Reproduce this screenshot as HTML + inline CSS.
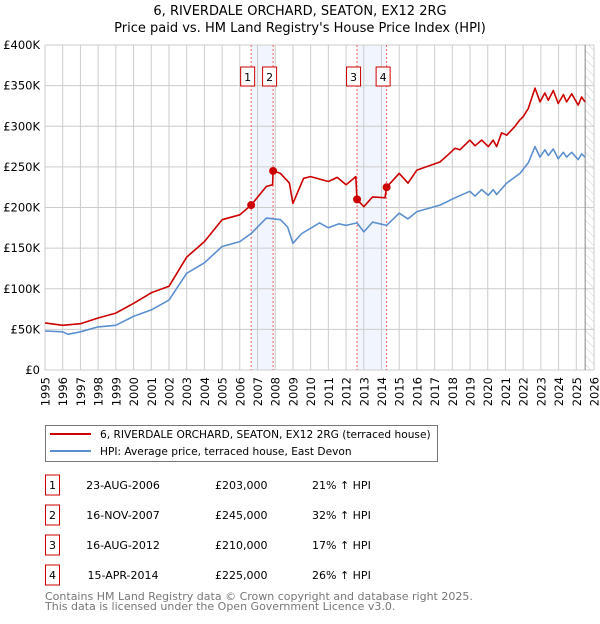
<!DOCTYPE html>
<html><head><meta charset="utf-8"><style>
body{margin:0;background:#fff;font-family:"DejaVu Sans","Liberation Sans",sans-serif;}
#wrap{position:relative;width:600px;height:620px;}
svg text{font-family:"DejaVu Sans","Liberation Sans",sans-serif;}
</style></head><body><div id="wrap">
<svg id="c" width="600" height="620"></svg>
</div>
<script>
const years=[1995,1996,1997,1998,1999,2000,2001,2002,2003,2004,2005,2006,2007,2008,2009,2010,2011,2012,2013,2014,2015,2016,2017,2018,2019,2020,2021,2022,2023,2024,2025,2026];
const yTicks=[0,50000,100000,150000,200000,250000,300000,350000,400000];
const yTickLabels=["£0","£50K","£100K","£150K","£200K","£250K","£300K","£350K","£400K"];
const hpiT=[1995,1996,1996.3,1997,1998,1999,2000,2001,2002,2003,2004,2005,2006,2006.64,2007.5,2008.3,2008.7,2009.0,2009.5,2010.5,2011,2011.6,2012,2012.62,2013,2013.5,2014.29,2015,2015.5,2016,2017.3,2018.15,2018.99,2019.28,2019.66,2020.03,2020.31,2020.5,2021.07,2021.82,2022.29,2022.67,2022.95,2023.23,2023.42,2023.7,2023.98,2024.27,2024.45,2024.74,2025.11,2025.3,2025.49];
const hpiV=[48,47,44,47,53,55,66,74,86,119,132,152,158,168,187,185,176,156,168,181,175,180,178,181,170,182,178,193,186,195,203,212,220,214,222,215,222,216,230,242,255,275,262,271,264,272,260,268,262,268,259,266,262];
const ppT=[1995,1996,1997,1998,1999,2000,2001,2002,2003,2004,2005,2006,2006.64,2007.5,2007.85,2007.88,2008.3,2008.8,2009.0,2009.6,2010,2011,2011.5,2012,2012.55,2012.62,2013,2013.5,2014.2,2014.29,2015,2015.5,2016,2017.3,2017.77,2018.15,2018.43,2018.99,2019.28,2019.66,2020.03,2020.31,2020.5,2020.78,2021.07,2021.54,2021.82,2022.01,2022.29,2022.67,2022.95,2023.23,2023.42,2023.7,2023.98,2024.27,2024.45,2024.74,2025.11,2025.3,2025.49];
const ppV=[58,55,57,64,70,82,95,103,139,158,185,191,203,226,228,245,242,230,205,236,238,232,237,228,238,210,201,213,212,225,242,230,246,256,265,273,271,283,276,283,275,283,275,292,289,300,308,312,322,347,330,341,332,344,328,339,330,340,326,336,330];
const saleT=[2006.64,2007.88,2012.62,2014.29];
const saleV=[203,245,210,225];
const saleLabels=["1","2","3","4"];

const X=t=>45+(t-1995)*(549/31);
const Y=v=>370-v*0.8125/1000;
const ns="http://www.w3.org/2000/svg";
const svg=document.getElementById('c');
function mk(tag,a,parent){const e=document.createElementNS(ns,tag);for(const k in a)e.setAttribute(k,a[k]);(parent||svg).appendChild(e);return e;}

let t=mk('text',{x:300,y:15,'text-anchor':'middle','font-size':'13'});t.textContent="6, RIVERDALE ORCHARD, SEATON, EX12 2RG";

t=mk('text',{x:300,y:32,'text-anchor':'middle','font-size':'13'});t.textContent="Price paid vs. HM Land Registry's House Price Index (HPI)";


for(let i=0;i<saleT.length;i+=2){const b=mk('rect',{x:X(saleT[i]),y:45,width:X(saleT[i+1])-X(saleT[i]),height:325,fill:'#eef3fc',opacity:0.8});
}
const defs=mk('defs',{});const pat=mk('pattern',{id:'h',width:6,height:6,patternUnits:'userSpaceOnUse',patternTransform:'rotate(-45)'},defs);
mk('line',{x1:0,y1:0,x2:0,y2:6,stroke:'#ccc','stroke-width':1},pat);
const hx=X(2025.5);
let h=mk('rect',{x:hx,y:45,width:X(2026)-hx,height:325,fill:'url(#h)'});


years.forEach(y=>{const l=mk('line',{x1:X(y),x2:X(y),y1:45,y2:370,stroke:'#cccccc','stroke-width':1});

const tx=mk('text',{x:0,y:0,'text-anchor':'end','font-size':'11.5',transform:'translate('+(X(y)+4.5)+',377) rotate(-90)'});tx.textContent=y;
});
yTicks.forEach((v,i)=>{const l=mk('line',{x1:45,x2:X(2026),y1:Y(v),y2:Y(v),stroke:'#cccccc','stroke-width':1});

const tx=mk('text',{x:40,y:Y(v)+4,'text-anchor':'end','font-size':'11.5'});tx.textContent=yTickLabels[i];
});
let hl=mk('line',{x1:hx,x2:hx,y1:45,y2:370,stroke:'#888','stroke-width':1});


saleT.forEach((s,i)=>{const l=mk('line',{x1:X(s),x2:X(s),y1:45,y2:370,stroke:'#f06060','stroke-width':1,'stroke-dasharray':'2,2'});

const r=mk('rect',{x:X(s)-10.5,y:67,width:14,height:19,fill:'#fff',stroke:'#cc0000','stroke-width':1});

const tx=mk('text',{x:X(s)-3.5,y:81,'text-anchor':'middle','font-size':'11'});tx.textContent=saleLabels[i];
});

function line(T,V,col,name){const d=T.map((tt,i)=>(i?'L':'M')+X(tt).toFixed(1)+','+Y(V[i]*1000).toFixed(1)).join('');
const p=mk('path',{d:d,fill:'none',stroke:col,'stroke-width':1.6,'stroke-linejoin':'round'});
}
line(hpiT,hpiV,'#5b8fd0','hpi-line');
line(ppT,ppV,'#cc0000','price-paid-line');
saleT.forEach((s,i)=>{const c=mk('circle',{cx:X(s),cy:Y(saleV[i]*1000),r:4,fill:'#cc0000'});
});

let lg=mk('rect',{x:45.5,y:425.5,width:392,height:36,fill:'#fff',stroke:'#777','stroke-width':1});

let ll=mk('line',{x1:50,x2:91,y1:434,y2:434,stroke:'#cc0000','stroke-width':2});
t=mk('text',{x:100,y:438,'font-size':'10.6'});t.textContent="6, RIVERDALE ORCHARD, SEATON, EX12 2RG (terraced house)";

ll=mk('line',{x1:50,x2:91,y1:451,y2:451,stroke:'#5b8fd0','stroke-width':2});
t=mk('text',{x:100,y:455,'font-size':'10.6'});t.textContent="HPI: Average price, terraced house, East Devon";


const dates=["23-AUG-2006","16-NOV-2007","16-AUG-2012","15-APR-2014"];
const prices=["£203,000","£245,000","£210,000","£225,000"];
const pcts=["21% ↑ HPI","32% ↑ HPI","17% ↑ HPI","26% ↑ HPI"];
dates.forEach((d,i)=>{const cy=483+i*30;
const r=mk('rect',{x:45.5,y:cy-8,width:14,height:20,fill:'#fff',stroke:'#cc0000','stroke-width':1});

let a=mk('text',{x:52.5,y:cy+6,'text-anchor':'middle','font-size':'11'});a.textContent=saleLabels[i];

a=mk('text',{x:123,y:cy+6,'text-anchor':'middle','font-size':'11'});a.textContent=d;

a=mk('text',{x:215,y:cy+6,'font-size':'11'});a.textContent=prices[i];

a=mk('text',{x:312,y:cy+6,'font-size':'11'});a.textContent=pcts[i];
});
t=mk('text',{x:45,y:600,'font-size':'11',fill:'#777'});t.textContent="Contains HM Land Registry data © Crown copyright and database right 2025.";

t=mk('text',{x:45,y:610,'font-size':'11',fill:'#777'});t.textContent="This data is licensed under the Open Government Licence v3.0.";

</script></body></html>
